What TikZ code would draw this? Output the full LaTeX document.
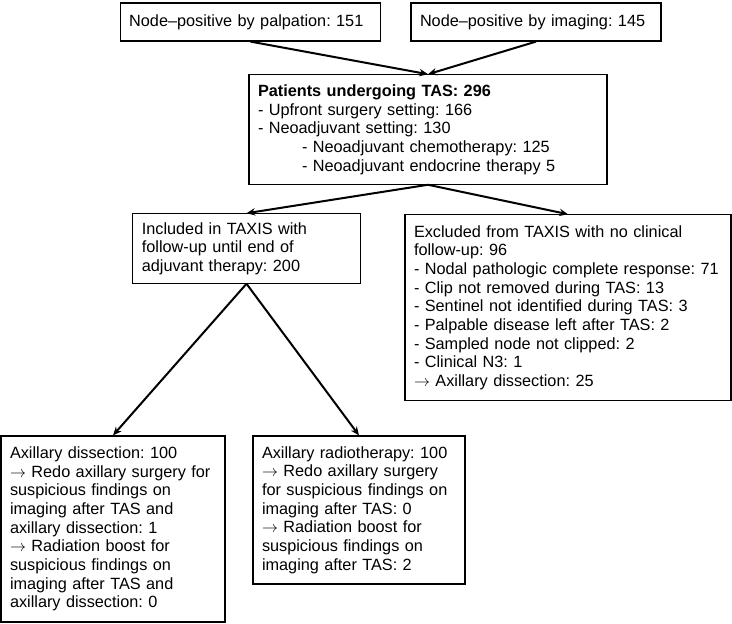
\documentclass[tikz,border=0pt]{standalone}
\usepackage{fontspec}
\setmainfont{Liberation Sans}
\newcommand{\then}{$\rightarrow$}
\usetikzlibrary{arrows.meta}

\begin{document}
\frenchspacing
\begin{tikzpicture}[
  x=0.75pt, y=-0.75pt,
  font=\fontsize{12.2}{14}\selectfont,
  arrow/.style={-{Stealth[length=6.5pt,width=5.5pt]}, line width=1.5pt},
  box/.style={draw, line width=0.9pt, align=left, inner xsep=6.75pt, inner ysep=2pt, fill=white}
]
\useasboundingbox (0,0) rectangle (732,624);

% Entry
\node[box, text width=182pt, minimum height=28.5pt] (palp) at (250.5,22) {Node--positive by palpation: 151};
\node[box, text width=174pt, minimum height=28.5pt] (imag) at (536,22) {Node--positive by imaging: 145};

% TAS
\node[box, text width=255pt, minimum height=82pt] (tas) at (428,129.5)
{\textbf{Patients undergoing TAS: 296}\\
- Upfront surgery setting: 166\\
- Neoadjuvant setting: 130\\
\hspace*{33pt}- Neoadjuvant chemotherapy: 125\\
\hspace*{33pt}- Neoadjuvant endocrine therapy 5};

% Included / excluded
\node[box, text width=157pt, minimum height=52pt] (incl) at (246.5,248.5)
{Included in TAXIS with\\follow-up until end of\\adjuvant therapy: 200};
\node[box, text width=231pt, minimum height=139pt] (excl) at (568,307.5)
{Excluded from TAXIS with no clinical\\
follow-up: 96\\
- Nodal pathologic complete response: 71\\
- Clip not removed during TAS: 13\\
- Sentinel not identified during TAS: 3\\
- Palpable disease left after TAS: 2\\
- Sampled node not clipped: 2\\
- Clinical N3: 1\\
\then{} Axillary dissection: 25};

% Randomised arms
\node[box, text width=154.5pt, minimum height=139.5pt] (dissect) at (113,529)
{Axillary dissection: 100\\
\then{} Redo axillary surgery for\\
suspicious findings on\\
imaging after TAS and\\
axillary dissection: 1\\
\then{} Radiation boost for\\
suspicious findings on\\
imaging after TAS and\\
axillary dissection: 0};
\node[box, text width=145.5pt, minimum height=111pt] (radio) at (359,510)
{Axillary radiotherapy: 100\\
\then{} Redo axillary surgery\\
for suspicious findings on\\
imaging after TAS: 0\\
\then{} Radiation boost for\\
suspicious findings on\\
imaging after TAS: 2};

\draw[arrow] (palp.south) -- (tas.north);
\draw[arrow] (imag.south) -- (tas.north);
\draw[arrow] (tas.south) -- (incl.north);
\draw[arrow] (tas.south) -- (excl.north);
\draw[arrow] (incl.south) -- (dissect.north);
\draw[arrow] (incl.south) -- (radio.north);

\end{tikzpicture}
\end{document}
